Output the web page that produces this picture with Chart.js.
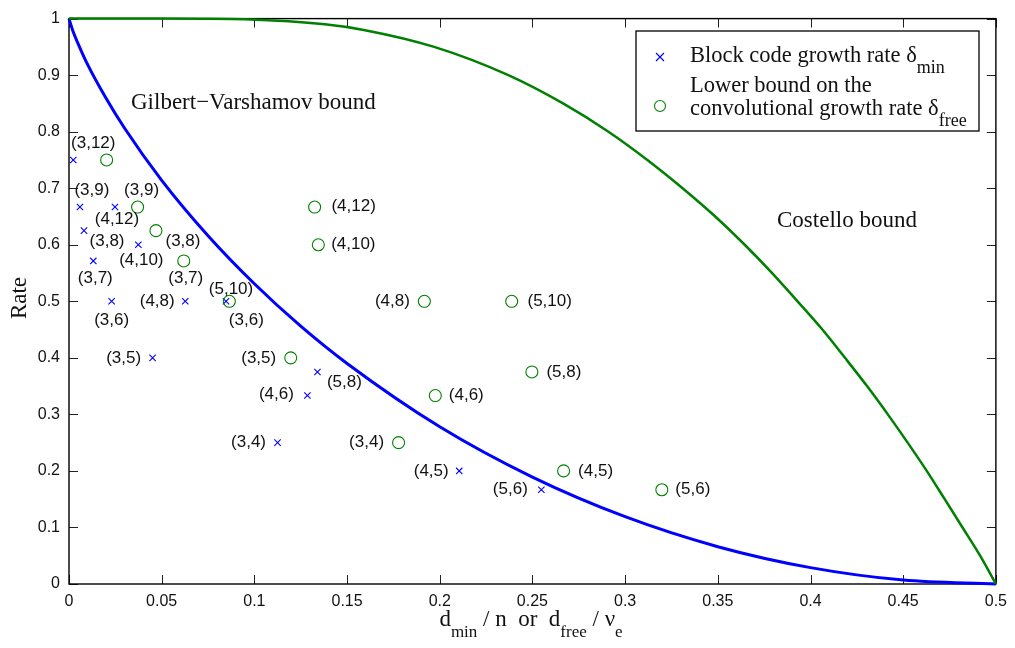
<!DOCTYPE html>
<html>
<head>
<meta charset="utf-8">
<script src="https://cdn.jsdelivr.net/npm/chart.js@4.4.0/dist/chart.umd.min.js"></script>
<style>
  html, body { margin: 0; padding: 0; background: #fff; }
  #wrap { width: 1015px; height: 648px; }
</style>
</head>
<body>
<div id="wrap"><canvas id="chart" width="1015" height="648"></canvas></div>
<script>
// Gilbert-Varshamov bound
const gvX = [0, 0.002, 0.005, 0.01, 0.02, 0.03, 0.05, 0.075, 0.1, 0.125, 0.15, 0.2, 0.25, 0.3, 0.35, 0.4, 0.45, 0.5];
const gvY = [1, 0.979, 0.955, 0.919, 0.859, 0.806, 0.714, 0.616, 0.531, 0.456, 0.39, 0.278, 0.189, 0.119, 0.066, 0.029, 0.007, 0];

// Costello bound
const costelloX = [0, 0.05, 0.072, 0.095, 0.138, 0.159, 0.197, 0.237, 0.2665, 0.291, 0.312, 0.331, 0.3486, 0.3645, 0.3793, 0.393, 0.4064, 0.4186, 0.4305, 0.4417, 0.4524, 0.4627, 0.4724, 0.482, 0.4915, 0.5];
const costelloY = [1, 1, 0.9999, 0.999, 0.99, 0.98, 0.95, 0.9, 0.85, 0.8, 0.75, 0.7, 0.65, 0.6, 0.55, 0.5, 0.45, 0.4, 0.35, 0.3, 0.25, 0.2, 0.15, 0.1, 0.05, 0];

// codes (k,n), their rates and growth rates
const codeNames = ['(3,12)', '(3,9)', '(4,12)', '(3,8)', '(4,10)', '(3,7)', '(3,6)', '(4,8)', '(5,10)', '(3,5)', '(4,6)', '(5,8)', '(3,4)', '(4,5)', '(5,6)'];
const codeRate = [0.75, 0.6667, 0.6667, 0.625, 0.6, 0.5714, 0.5, 0.5, 0.5, 0.4, 0.3333, 0.375, 0.25, 0.2, 0.1667];
const blockGrowth = [0.0023, 0.0059, 0.0248, 0.0081, 0.0374, 0.0131, 0.023, 0.0627, 0.0847, 0.0451, 0.1286, 0.134, 0.1125, 0.2105, 0.2548];
const convGrowth = [0.0203, 0.037, 0.1325, 0.0469, 0.1345, 0.0619, 0.0865, 0.1917, 0.2388, 0.1196, 0.1976, 0.2497, 0.1778, 0.2668, 0.3198];

const xTicks = [0, 0.05, 0.1, 0.15, 0.2, 0.25, 0.3, 0.35, 0.4, 0.45, 0.5];
const yTicks = [0, 0.1, 0.2, 0.3, 0.4, 0.5, 0.6, 0.7, 0.8, 0.9, 1];

// where each (k,n) tag sits relative to its marker, in px (null = no tag)
const blockTagOffset = [[20, -17], [12, -17], [2, 12], [23, 11], [3, 16], [2, 17], [0, 19], [-28, 0], [5, -12], [-29, 0], [-31, -1], [27, 10], [-29, 0], [-28, 0], [-31, 0]];
const convTagOffset = [null, [4, -17], [39, -1], [27, 11], [35, 0], [2, 17], [17, 19], [-32, 0], [38, 0], [-32, 0], [31, 0], [32, 0], [-32, 0], [32, 0], [31, 0]];

const SANS = "'Liberation Sans', Arial, sans-serif";
const SERIF = "'Liberation Serif', 'Times New Roman', serif";
const BLUE = '#0000ff';
const GREEN = '#008000';

const toPoints = (xs, ys) => xs.map((x, i) => ({ x: x, y: ys[i] }));

// text with subscripts: parts = [[text, isSub], ...]
function drawSubText(ctx, parts, x, y, size, subSize, subDrop) {
  let cx = x;
  parts.forEach(p => {
    ctx.font = (p[1] ? subSize : size) + 'px ' + SERIF;
    ctx.fillText(p[0], cx, p[1] ? y + subDrop : y);
    cx += ctx.measureText(p[0]).width;
  });
  return cx;
}
function subTextWidth(ctx, parts, size, subSize) {
  let w = 0;
  parts.forEach(p => {
    ctx.font = (p[1] ? subSize : size) + 'px ' + SERIF;
    w += ctx.measureText(p[0]).width;
  });
  return w;
}

const framePlugin = {
  id: 'frame',
  beforeDraw(chart) {
    const ctx = chart.ctx;
    ctx.save();
    ctx.fillStyle = '#fff';
    ctx.fillRect(0, 0, chart.width, chart.height);
    ctx.restore();
  },
  beforeDatasetsDraw(chart) {
    const { ctx, chartArea: a, scales } = chart;
    ctx.save();
    ctx.strokeStyle = '#222';
    ctx.lineWidth = 1;
    ctx.beginPath();
    xTicks.forEach(v => {
      const px = Math.round(scales.x.getPixelForValue(v)) + 0.5;
      ctx.moveTo(px, a.bottom); ctx.lineTo(px, a.bottom - 9);
      ctx.moveTo(px, a.top); ctx.lineTo(px, a.top + 9);
    });
    yTicks.forEach(v => {
      const py = Math.round(scales.y.getPixelForValue(v)) + 0.5;
      ctx.moveTo(a.left, py); ctx.lineTo(a.left + 9, py);
      ctx.moveTo(a.right, py); ctx.lineTo(a.right - 9, py);
    });
    ctx.stroke();
    ctx.strokeStyle = '#000';
    ctx.lineWidth = 1.4;
    ctx.strokeRect(a.left, a.top, a.right - a.left, a.bottom - a.top);
    ctx.restore();
  },
  afterDatasetsDraw(chart) {
    const ctx = chart.ctx;
    ctx.save();
    ctx.fillStyle = '#111';
    ctx.font = '17px ' + SANS;
    ctx.textAlign = 'center';
    ctx.textBaseline = 'middle';
    const tag = (dsIndex, offsets) => {
      const meta = chart.getDatasetMeta(dsIndex);
      meta.data.forEach((el, i) => {
        const o = offsets[i];
        if (!o) return;
        ctx.fillText(codeNames[i], el.x + o[0], el.y + o[1]);
      });
    };
    tag(2, blockTagOffset);
    tag(3, convTagOffset);
    ctx.restore();
  },
  afterDraw(chart) {
    const ctx = chart.ctx;
    ctx.save();
    ctx.fillStyle = '#111';
    ctx.textBaseline = 'alphabetic';

    // curve names
    ctx.font = '23px ' + SERIF;
    ctx.fillText('Gilbert\u2212Varshamov bound', 131, 109);
    ctx.fillText('Costello bound', 777, 227);

    // y axis title
    ctx.save();
    ctx.translate(26, 298);
    ctx.rotate(-Math.PI / 2);
    ctx.textAlign = 'center';
    ctx.font = '23px ' + SERIF;
    ctx.fillText('Rate', 0, 0);
    ctx.restore();

    // x axis title
    const xParts = [['d', false], ['min', true], [' / n  or  d', false], ['free', true], [' / \u03bd', false], ['e', true]];
    const w = subTextWidth(ctx, xParts, 23, 17);
    drawSubText(ctx, xParts, 531 - w / 2, 626, 23, 17, 11);

    // legend
    ctx.fillStyle = '#fff';
    ctx.fillRect(636, 31, 343, 100);
    ctx.strokeStyle = '#000';
    ctx.lineWidth = 1.3;
    ctx.strokeRect(636, 31, 343, 100);

    ctx.strokeStyle = BLUE;
    ctx.lineWidth = 1.1;
    ctx.beginPath();
    ctx.moveTo(656, 53); ctx.lineTo(664, 61);
    ctx.moveTo(664, 53); ctx.lineTo(656, 61);
    ctx.stroke();
    ctx.strokeStyle = GREEN;
    ctx.beginPath();
    ctx.arc(660, 106, 5.5, 0, Math.PI * 2);
    ctx.stroke();

    ctx.fillStyle = '#111';
    drawSubText(ctx, [['Block code growth rate \u03b4', false], ['min', true]], 690, 62, 22.5, 18, 11);
    ctx.font = '22.5px ' + SERIF;
    ctx.fillText('Lower bound on the', 690, 92);
    drawSubText(ctx, [['convolutional growth rate \u03b4', false], ['free', true]], 690, 115, 22.5, 18, 11);
    ctx.restore();
  }
};

const ctx = document.getElementById('chart').getContext('2d');
new Chart(ctx, {
  type: 'scatter',
  data: {
    datasets: [
      {
        label: 'Gilbert-Varshamov bound',
        data: toPoints(gvX, gvY),
        showLine: true,
        borderColor: BLUE,
        borderWidth: 3,
        pointRadius: 0,
        cubicInterpolationMode: 'monotone',
        clip: false,
        order: 3
      },
      {
        label: 'Costello bound',
        data: toPoints(costelloX, costelloY),
        showLine: true,
        borderColor: GREEN,
        borderWidth: 2.5,
        pointRadius: 0,
        cubicInterpolationMode: 'monotone',
        clip: false,
        order: 2
      },
      {
        label: 'Block code growth rate',
        data: toPoints(blockGrowth, codeRate),
        pointStyle: 'crossRot',
        pointRadius: 4.5,
        pointBorderWidth: 1.1,
        borderColor: BLUE,
        backgroundColor: BLUE,
        order: 1
      },
      {
        label: 'Lower bound on the convolutional growth rate',
        data: toPoints(convGrowth, codeRate),
        pointStyle: 'circle',
        pointRadius: 6,
        pointBorderWidth: 1.1,
        borderColor: GREEN,
        backgroundColor: 'rgba(0,0,0,0)',
        order: 0
      }
    ]
  },
  options: {
    responsive: false,
    animation: false,
    devicePixelRatio: 1,
    layout: { padding: { left: 0, right: 17, top: 14, bottom: 0 } },
    plugins: {
      legend: { display: false },
      tooltip: { enabled: false }
    },
    scales: {
      x: {
        type: 'linear',
        min: 0,
        max: 0.5,
        afterBuildTicks: s => { s.ticks = xTicks.map(v => ({ value: v })); },
        afterFit: s => { s.height = 64; },
        grid: { display: false, drawTicks: false },
        border: { display: false },
        ticks: {
          padding: 8,
          color: '#111',
          font: { family: SANS, size: 16 },
          maxRotation: 0,
          callback: v => String(v)
        }
      },
      y: {
        type: 'linear',
        min: 0,
        max: 1,
        afterBuildTicks: s => { s.ticks = yTicks.map(v => ({ value: v })); },
        afterFit: s => { s.width = 69; },
        grid: { display: false, drawTicks: false },
        border: { display: false },
        ticks: {
          padding: 9,
          color: '#111',
          font: { family: SANS, size: 16 },
          callback: v => String(v)
        }
      }
    }
  },
  plugins: [framePlugin]
});
</script>
</body>
</html>
